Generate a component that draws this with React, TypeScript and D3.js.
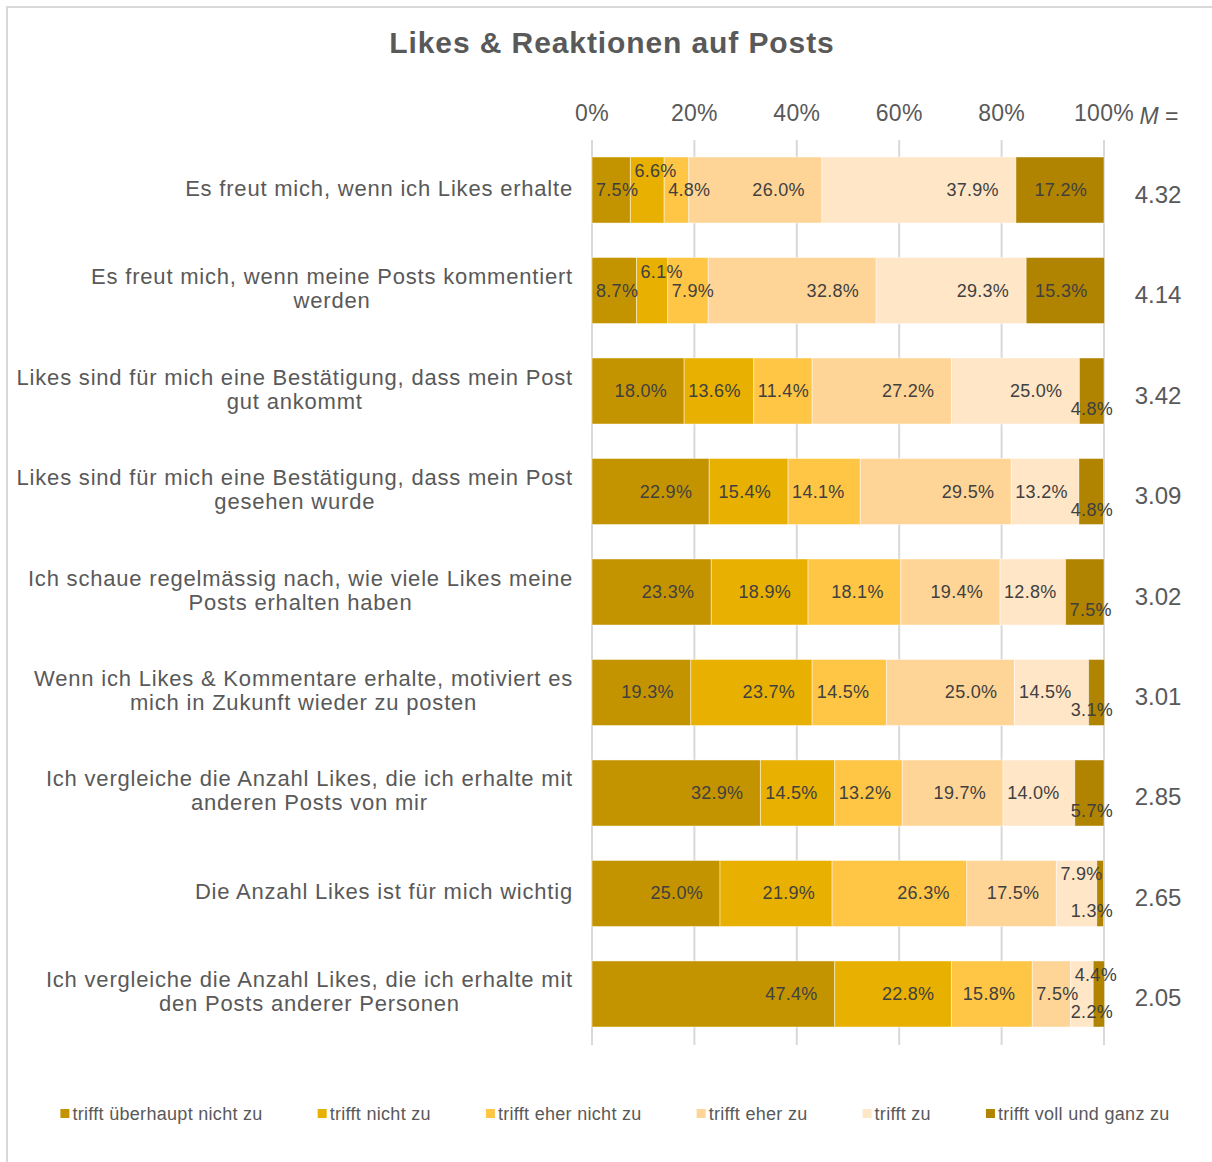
import React, { useEffect, useRef } from 'react';
import * as d3 from 'd3';

const title = 'Likes & Reaktionen auf Posts';

const categories = [
  'Es freut mich, wenn ich Likes erhalte',
  'Es freut mich, wenn meine Posts kommentiert\nwerden',
  'Likes sind für mich eine Bestätigung, dass mein Post\ngut ankommt',
  'Likes sind für mich eine Bestätigung, dass mein Post\ngesehen wurde',
  'Ich schaue regelmässig nach, wie viele Likes meine\nPosts erhalten haben',
  'Wenn ich Likes & Kommentare erhalte, motiviert es\nmich in Zukunft wieder zu posten',
  'Ich vergleiche die Anzahl Likes, die ich erhalte mit\nanderen Posts von mir',
  'Die Anzahl Likes ist für mich wichtig',
  'Ich vergleiche die Anzahl Likes, die ich erhalte mit\nden Posts anderer Personen',
];

const seriesNames = [
  'trifft überhaupt nicht zu',
  'trifft nicht zu',
  'trifft eher nicht zu',
  'trifft eher zu',
  'trifft zu',
  'trifft voll und ganz zu',
];

const s1 = [7.5, 8.7, 18.0, 22.9, 23.3, 19.3, 32.9, 25.0, 47.4];
const s2 = [6.6, 6.1, 13.6, 15.4, 18.9, 23.7, 14.5, 21.9, 22.8];
const s3 = [4.8, 7.9, 11.4, 14.1, 18.1, 14.5, 13.2, 26.3, 15.8];
const s4 = [26.0, 32.8, 27.2, 29.5, 19.4, 25.0, 19.7, 17.5, 7.5];
const s5 = [37.9, 29.3, 25.0, 13.2, 12.8, 14.5, 14.0, 7.9, 4.4];
const s6 = [17.2, 15.3, 4.8, 4.8, 7.5, 3.1, 5.7, 1.3, 2.2];

const means = [4.32, 4.14, 3.42, 3.09, 3.02, 3.01, 2.85, 2.65, 2.05];
const xTicks = [0, 20, 40, 60, 80, 100];

const colors = ['#C49400', '#E8B000', '#FFC544', '#FFD597', '#FFE6C7', '#B08300'];

const FONT = '"Liberation Sans", Arial, Helvetica, sans-serif';
const W = 1212;
const H = 1162;

export default function App() {
  const ref = useRef<SVGSVGElement | null>(null);

  useEffect(() => {
    const svg = d3.select(ref.current);
    svg.selectAll('*').remove();
    svg.style('font-family', FONT);

    const seriesArrays = [s1, s2, s3, s4, s5, s6];
    const rows = categories.map((c, i) => {
      const r: any = { cat: c };
      seriesNames.forEach((k, j) => (r[k] = seriesArrays[j][i]));
      return r;
    });

    const x = d3.scaleLinear().domain([0, 100]).range([592, 1104]);
    const y = d3.scaleBand<string>().domain(categories).range([157, 1027]).paddingInner(0.343).paddingOuter(0);

    svg.append('rect').attr('x', 0).attr('y', 0).attr('width', W).attr('height', H).attr('fill', '#fff');
    svg.append('rect').attr('x', 7).attr('y', 7).attr('width', 1230).attr('height', 1180)
      .attr('fill', 'none').attr('stroke', '#d9d9d9').attr('stroke-width', 2);

    // title
    svg.append('text').attr('x', 612).attr('y', 42).attr('text-anchor', 'middle')
      .attr('dominant-baseline', 'central').attr('font-size', 30).attr('font-weight', 'bold')
      .attr('letter-spacing', 0.9)
      .attr('fill', '#595959').text(title);

    // grid
    svg.append('g').selectAll('line').data(xTicks).join('line')
      .attr('x1', d => x(d)).attr('x2', d => x(d)).attr('y1', 140).attr('y2', 1045)
      .attr('stroke', '#d9d9d9').attr('stroke-width', 2);

    svg.append('g').selectAll('text').data(xTicks).join('text')
      .attr('x', d => x(d)).attr('y', 113).attr('text-anchor', 'middle').attr('dominant-baseline', 'central')
      .attr('font-size', 23).attr('letter-spacing', 0.3).attr('fill', '#595959').text(d => `${d}%`);

    const mt = svg.append('text').attr('x', 1159).attr('y', 116).attr('text-anchor', 'middle')
      .attr('dominant-baseline', 'central').attr('font-size', 23).attr('fill', '#595959');
    mt.append('tspan').attr('font-style', 'italic').text('M');
    mt.append('tspan').text(' =');

    // bars
    const stack = d3.stack<any>().keys(seriesNames);
    const stacked = stack(rows);
    const barG = svg.append('g');
    stacked.forEach((layer, j) => {
      barG.append('g').attr('fill', colors[j]).selectAll('rect').data(layer).join('rect')
        .attr('x', d => x(d[0])).attr('width', d => x(d[1]) - x(d[0]))
        .attr('y', d => y(d.data.cat)!).attr('height', y.bandwidth())
        .attr('stroke', 'rgba(255,255,255,0.45)').attr('stroke-width', 1);
    });

    // labels
    const fmt = d3.format('.1f');
    const labG = svg.append('g');
    const M = 5;
    rows.forEach((r, i) => {
      const cy = y(r.cat)! + y.bandwidth() / 2;
      const placed: { x0: number; x1: number; lvl: number; narrow: boolean; t: any }[] = [];
      stacked.forEach((layer, j) => {
        const d = layer[i];
        const t = labG.append('text').attr('font-size', 18).attr('letter-spacing', 0.3).attr('fill', '#404040')
          .attr('dominant-baseline', 'central').attr('text-anchor', 'end')
          .text(`${fmt(d[1] - d[0])}%`);
        const w = (t.node() as SVGTextElement).getComputedTextLength();
        const xs = x(d[0]);
        const xe = x(d[1]);
        const narrow = xs + w + 4 > xe - 17;
        let right = Math.max(xe - 17, xs + w + 4);
        const isLast = j === stacked.length - 1;
        let lvl = 0;
        if (narrow && isLast) {
          right = Math.min(right, 1113);
          lvl = 1;
          placed.forEach(p => {
            if (p.narrow && p.lvl === 0 && !(right - w > p.x1 || right < p.x0)) {
              const upFree = !placed.some(q => q !== p && q.lvl === -1 && !(p.x0 > q.x1 + M || p.x1 < q.x0 - M));
              if (upFree) p.lvl = -1;
            }
          });
        } else if (narrow) {
          const order = [0, -1, 1];
          for (const L of order) {
            const clash = placed.some(p => p.lvl === L && !(right - w > p.x1 + M || right < p.x0 - M));
            if (!clash) { lvl = L; break; }
          }
        }
        placed.push({ x0: right - w, x1: right, lvl, narrow, t });
        t.attr('x', right);
      });
      placed.forEach(p => {
        const dy = p.lvl === -1 ? -19 : p.lvl === 1 ? 18 : 0;
        p.t.attr('y', cy + dy);
      });
    });

    // category labels
    const catG = svg.append('g');
    categories.forEach(c => {
      const lines = c.split('\n');
      const cy = y(c)! + y.bandwidth() / 2;
      const lh = 24;
      const texts = lines.map((ln, k) =>
        catG.append('text').attr('font-size', 22).attr('letter-spacing', 0.8).attr('fill', '#595959')
          .attr('text-anchor', 'middle').attr('dominant-baseline', 'central')
          .attr('y', cy - 2 + (k - (lines.length - 1) / 2) * lh).text(ln));
      const maxW = d3.max(texts, t => (t.node() as SVGTextElement).getComputedTextLength())!;
      texts.forEach(t => t.attr('x', 573 - maxW / 2));
    });

    // means
    svg.append('g').selectAll('text').data(categories).join('text')
      .attr('x', 1158).attr('y', c => y(c)! + y.bandwidth() / 2 + 4)
      .attr('text-anchor', 'middle').attr('dominant-baseline', 'central')
      .attr('font-size', 24).attr('fill', '#595959')
      .text((c, i) => means[i].toFixed(2));

    // legend
    const legG = svg.append('g');
    const items = seriesNames.map((n, j) => {
      const g = legG.append('g');
      g.append('rect').attr('width', 9).attr('height', 9).attr('y', 1109).attr('fill', colors[j]);
      const t = g.append('text').attr('x', 12).attr('y', 1113.5).attr('dominant-baseline', 'central')
        .attr('font-size', 18).attr('letter-spacing', 0.3).attr('fill', '#595959').text(n);
      const w = (t.node() as SVGTextElement).getComputedTextLength();
      return { g, w: 12 + w };
    });
    const gap = 55;
    const total = d3.sum(items, it => it.w) + gap * (items.length - 1);
    let cx = 615 - total / 2;
    items.forEach(it => {
      it.g.attr('transform', `translate(${cx},0)`);
      cx += it.w + gap;
    });
  }, []);

  return (
    <svg ref={ref} width={W} height={H} style={{ position: 'absolute', left: 0, top: 0 }} />
  );
}
